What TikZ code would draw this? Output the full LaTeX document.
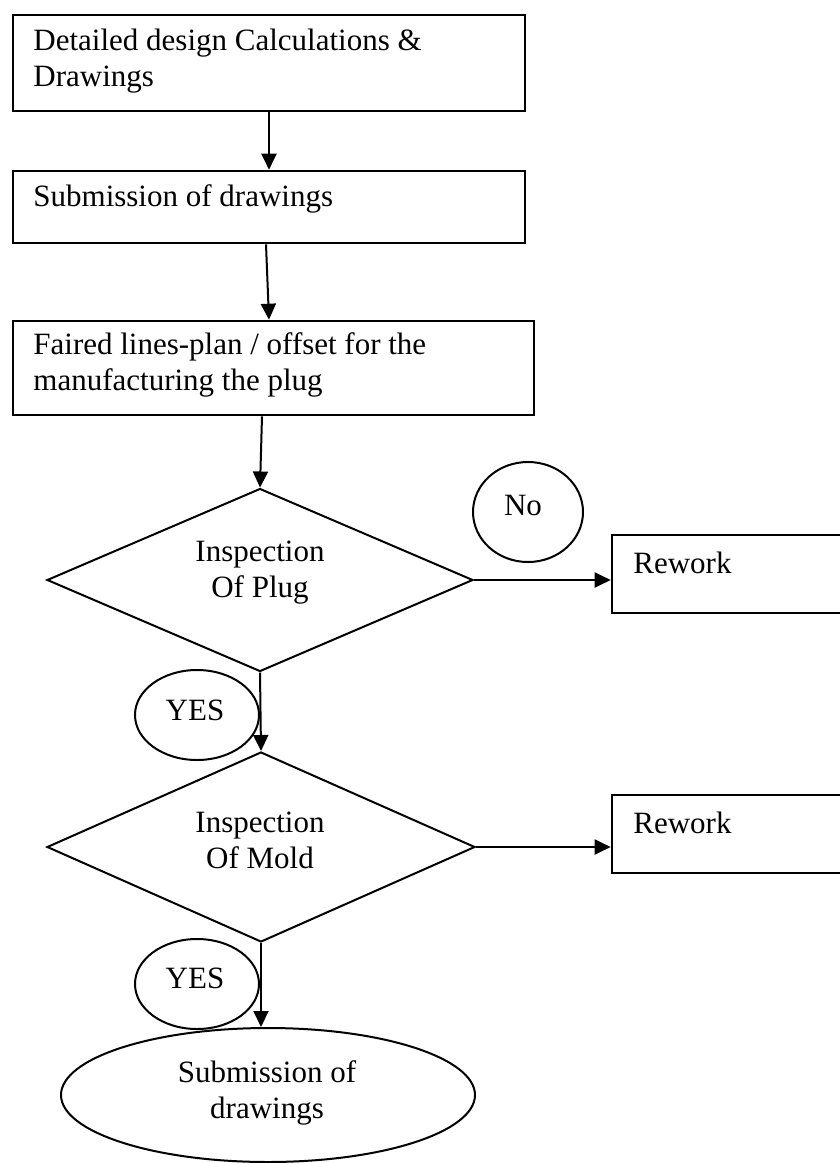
\documentclass[tikz,border=0pt]{standalone}
\usepackage{fontspec}
\setmainfont{Liberation Serif}
\usetikzlibrary{arrows.meta,shapes.geometric,calc}
\begin{document}
\begin{tikzpicture}[x=0.5pt,y=-0.5pt,
  every node/.style={font=\fontsize{15.5}{18}\selectfont},
  boxshape/.style={draw,line width=1.3pt,rectangle,inner sep=0pt},
  dshape/.style={draw,line width=1pt,diamond,inner sep=0pt},
  oshape/.style={draw,line width=1pt,ellipse,inner sep=0pt},
  txt/.style={inner sep=0pt,align=center},
  ltxt/.style={inner sep=0pt,align=left,anchor=west},
  arr/.style={line width=1pt,-{Triangle[length=8pt,width=7.5pt]}}]
\useasboundingbox (0,0) rectangle (840,1163);
\clip (0,0) rectangle (840,1163);
\fill[white] (0,0) rectangle (840,1163);

% boxes
\node[boxshape,minimum width=256pt,minimum height=48pt] (b1) at (269,63) {};
\node[ltxt] (t1) at (33,61.5) {Detailed design Calculations \&\\Drawings};
\node[boxshape,minimum width=256pt,minimum height=36pt] (b2) at (269,207) {};
\node[ltxt] (t2) at (33,199) {Submission of drawings};
\node[boxshape,minimum width=260.5pt,minimum height=47pt] (b3) at (273.5,368) {};
\node[ltxt] (t3) at (33,364.5) {Faired lines-plan / offset for the\\manufacturing the plug};

% diamonds
\node[dshape,minimum width=213pt,minimum height=91.5pt] (d1) at (260,580) {};
\node[txt] (td1) at (260,572.5) {Inspection\\Of Plug};
\node[dshape,minimum width=214pt,minimum height=95pt] (d2) at (261,847) {};
\node[txt] (td2) at (260,840) {Inspection\\Of Mold};

% rework boxes
\node[boxshape,minimum width=124pt,minimum height=39pt] (r1) at (736,574) {};
\node[ltxt] (tr1) at (633,563) {Rework};
\node[boxshape,minimum width=124pt,minimum height=39pt] (r2) at (736,834) {};
\node[ltxt] (tr2) at (633,823) {Rework};

% circles
\node[oshape,minimum width=55pt,minimum height=50pt] (no) at (528,512) {};
\node[txt] (tno) at (523,505) {No};
\node[oshape,minimum width=62pt,minimum height=45pt] (y1) at (197,715) {};
\node[txt] (ty1) at (195,710) {YES};
\node[oshape,minimum width=62pt,minimum height=45pt] (y2) at (197,984) {};
\node[txt] (ty2) at (195,978) {YES};

% final ellipse
\node[oshape,minimum width=207pt,minimum height=67pt] (e) at (268,1095) {};
\node[txt] (te) at (267,1092.5) {Submission of\\drawings};

% connectors
\draw[arr] (b1.south) -- (b2.north);
\draw[arr] ($(b2.south)+(-3,0)$) -- (b2.south |- b3.north);
\draw[arr] ($(b3.south -| d1.north)+(2,0)$) -- (d1.north);
\draw[arr] (d1.east) -- (r1.west |- d1.east);
\draw[arr] (d1.south) -- (d2.north);
\draw[arr] (d2.east) -- (r2.west |- d2.east);
\draw[arr] (d2.south) -- (d2.south |- e.north);
\end{tikzpicture}
\end{document}
